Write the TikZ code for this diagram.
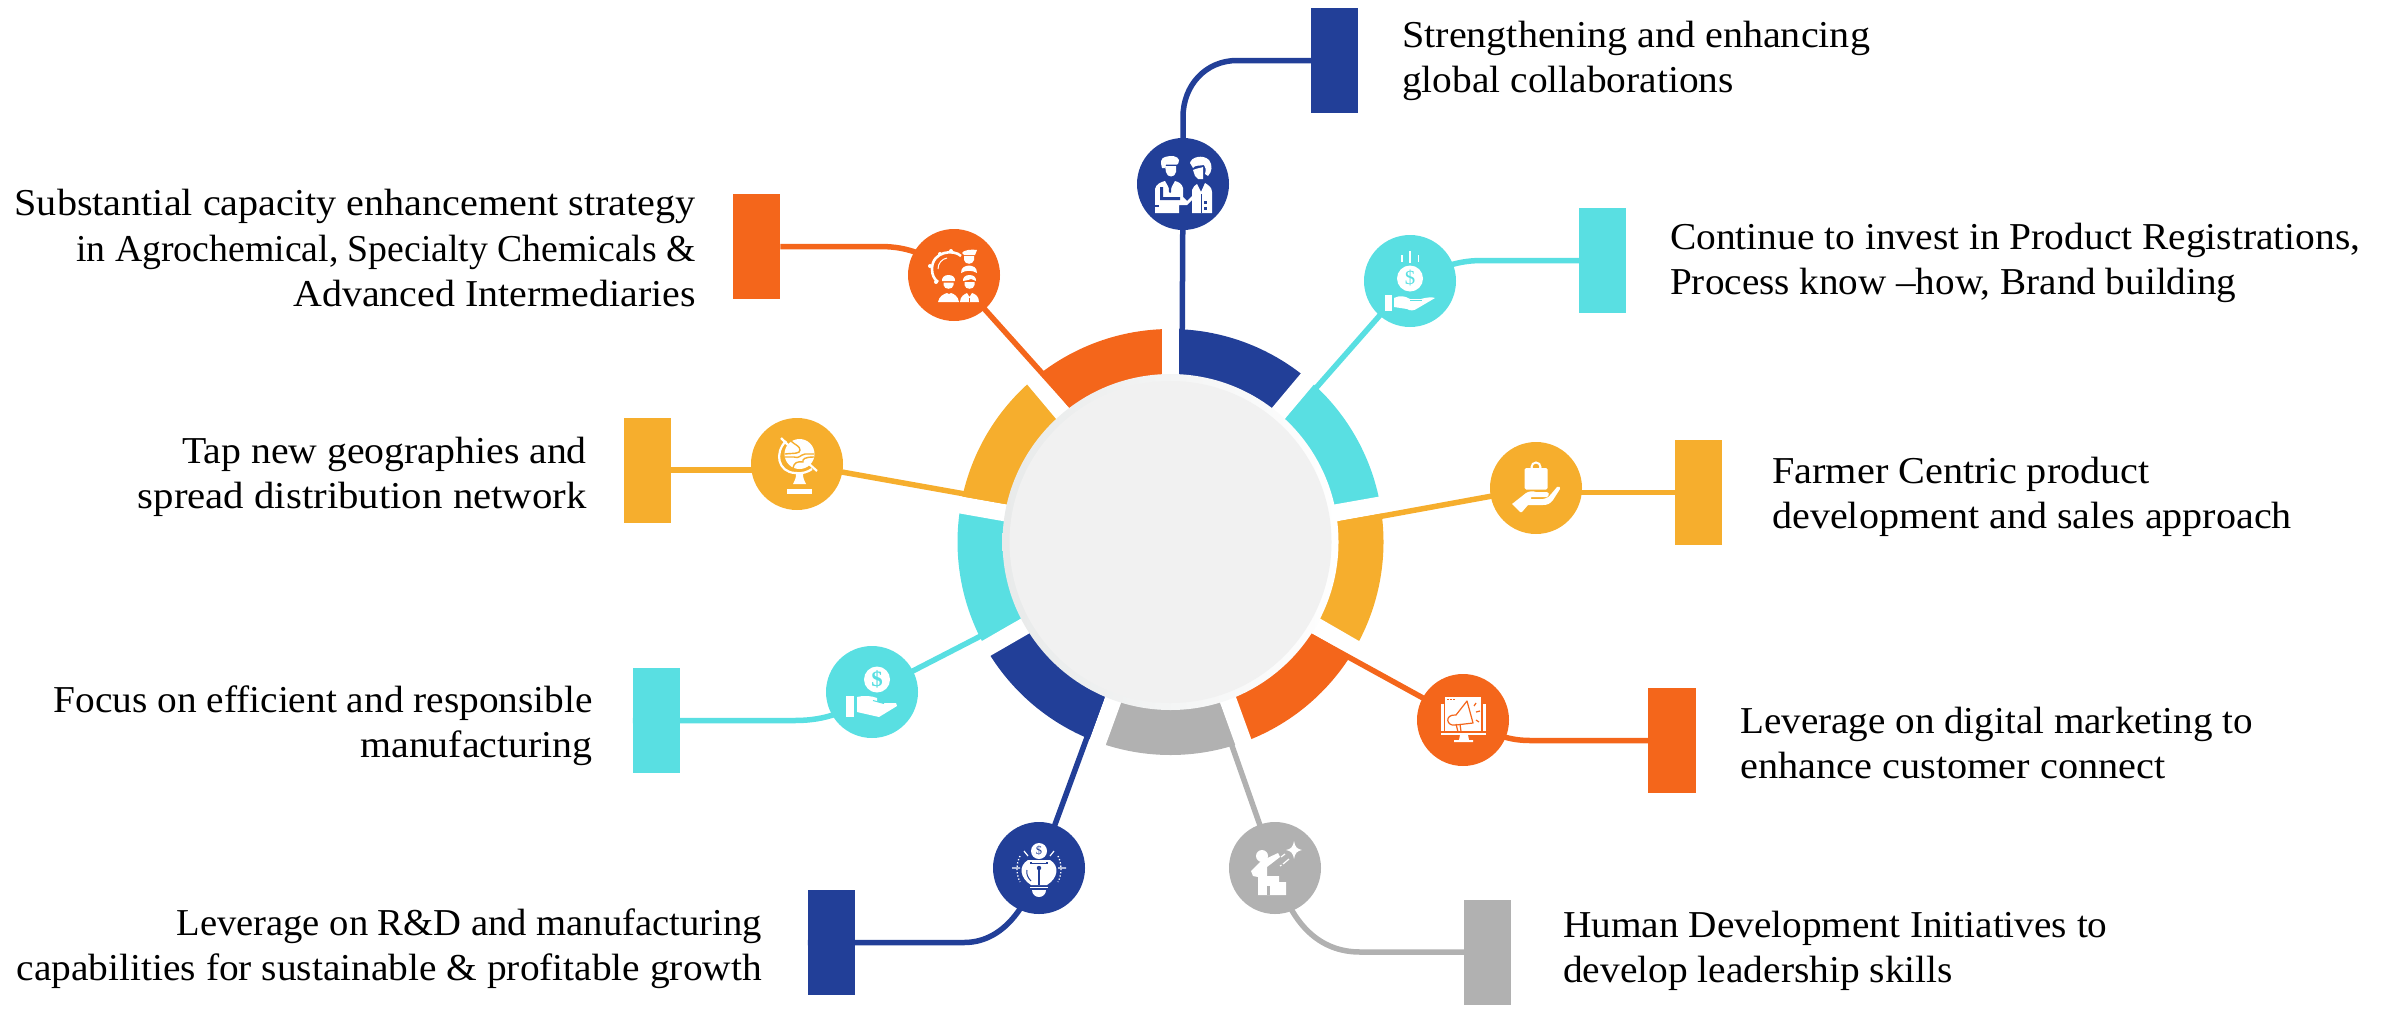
\documentclass[tikz,border=0pt]{standalone}
\usepackage{fontspec}
\setmainfont{Liberation Serif}[FakeStretch=1.042]
\usetikzlibrary{calc,shapes.geometric,backgrounds}
\definecolor{cblue}{HTML}{223F98}
\definecolor{ccyan}{HTML}{59DFE2}
\definecolor{cyell}{HTML}{F6AE2D}
\definecolor{corng}{HTML}{F4661B}
\definecolor{cgray}{HTML}{B1B1B1}
\definecolor{cdisk}{HTML}{F1F1F1}
\definecolor{crim}{HTML}{E8EAEA}
\newcommand{\hs}[2]{\scalebox{#1}[1]{#2}}
\pgfdeclarelayer{under}
\pgfsetlayers{under,main}
\tikzset{
  badge/.style={circle,fill=#1,minimum size=92pt,inner sep=0pt,outer sep=0pt},
  tab/.style={rectangle,fill=#1,minimum width=47.5pt,minimum height=105pt,inner sep=0pt,outer sep=0pt},
  link/.style={draw=#1,line width=5.5pt},
  lefttext/.style={anchor=west,align=left,inner sep=0pt,font=\fontsize{38}{45.2}\selectfont,text=black},
  righttext/.style={anchor=east,align=right,inner sep=0pt,font=\fontsize{38}{45.2}\selectfont,text=black},
}
\begin{document}
\begin{tikzpicture}[yscale=-1,x=1pt,y=1pt]
\useasboundingbox (0,0) rectangle (2389,1009);
% hub
\node[circle,left color=crim,right color=white,minimum size=336pt,inner sep=0pt,outer sep=0pt] (hub) at (1170.5,542) {};
\node[circle,fill=cdisk,minimum size=322pt,inner sep=0pt,outer sep=0pt] (disk) at (1170.5,542) {};
% badges
\node[badge=cblue] (b1) at (1183,184) {};
\node[badge=ccyan] (b2) at (1410,281) {};
\node[badge=cyell] (b3) at (1536,488) {};
\node[badge=corng] (b4) at (1463,720) {};
\node[badge=cgray] (b5) at (1275,868) {};
\node[badge=cblue] (b6) at (1039,868) {};
\node[badge=ccyan] (b7) at (872,692) {};
\node[badge=cyell] (b8) at (797,464) {};
\node[badge=corng] (b9) at (954,275) {};
% tabs
\node[tab=cblue] (t1) at (1334.5,60.5) {};
\node[tab=ccyan] (t2) at (1602.5,260.5) {};
\node[tab=cyell] (t3) at (1698.5,492.5) {};
\node[tab=corng] (t4) at (1672,740.5) {};
\node[tab=cgray] (t5) at (1487.5,952) {};
\node[tab=cblue] (t6) at (831.5,942.5) {};
\node[tab=ccyan] (t7) at (656.5,720.5) {};
\node[tab=cyell] (t8) at (647.5,470) {};
\node[tab=corng] (t9) at (756.5,246.5) {};
% ring ends of connectors
\foreach \n/\a in {1/-90,2/-50,3/-10,4/30,5/70,6/110,7/150,8/190,9/230}{
  \coordinate (s\n) at ($(hub.center)+(\a:170pt)+(\a+90:11.5pt)$);
}
\begin{pgfonlayer}{under}
\foreach \a/\c in {-90/cblue,-50/ccyan,-10/cyell,30/corng,70/cgray,110/cblue,150/ccyan,190/cyell,230/corng}{
  \fill[\c] (hub.center) -- ($(hub.center)+(\a:213pt)$) arc[start angle=\a,delta angle=40,radius=213pt] -- cycle;
}
\foreach \a in {-90,-50,-10,30,70,110,150,190,230}{
  \draw[white,line width=17pt] (hub.center) -- ($(hub.center)+(\a:232pt)$);
}
\draw[link=cblue] (s1) -- (b1.center);
\draw[link=ccyan] (s2) -- (b2.center);
\draw[link=cyell] (s3) -- (b3.center);
\draw[link=corng] (s4) -- (b4.center);
\draw[link=cgray] (s5) -- (b5.center);
\draw[link=cblue] (s6) -- (b6.center);
\draw[link=ccyan] (s7) -- (b7.center);
\draw[link=cyell] (s8) -- (b8.center);
\draw[link=corng] (s9) -- (b9.center);
\draw[link=cblue] (b1.center) -- (1183,117) .. controls (1183,85.5) and (1205.5,60.5) .. (1237,60.5) -- (t1.west);
\draw[link=ccyan] (b2.center) .. controls (1440,268) and (1455,261) .. (1480,260.5) -- (t2.west);
\draw[link=cyell] (b3.center) -- (1536,492.5) -- (t3.west);
\draw[link=corng] (b4.center) .. controls (1490,732) and (1505,740.5) .. (1530,740.5) -- (t4.west);
\draw[link=cgray] (b5.center) .. controls (1290,925) and (1320,952) .. (1360,952) -- (t5.west);
\draw[link=cblue] (b6.center) .. controls (1025,912) and (1000,942.5) .. (964,942.5) -- (t6.west);
\draw[link=ccyan] (b7.center) .. controls (850,712) and (825,720.5) .. (795,720.5) -- (t7.west);
\draw[link=cyell] (b8.center) -- (797,470) -- (t8.east);
\draw[link=corng] (b9.center) .. controls (930,256) and (910,246.5) .. (880,246.5) -- (t9.east);
\end{pgfonlayer}
% texts
\node[lefttext] (x1) at (1402,61) {\hs{1.013}{Strengthening and enhancing}\\\hs{.995}{global collaborations}};
\node[lefttext] (x2) at (1670,263) {\hs{.996}{Continue to invest in Product Registrations,}\\\hs{.989}{Process know –how, Brand building}};
\node[lefttext] (x3) at (1772,497) {\hs{1.016}{Farmer Centric product}\\\hs{1.012}{development and sales approach}};
\node[lefttext] (x4) at (1740,743) {\hs{.988}{Leverage on digital marketing to}\\\hs{1.018}{enhance customer connect}};
\node[lefttext] (x5) at (1563,951) {\hs{.992}{Human Development Initiatives to}\\\hs{.996}{develop leadership skills}};
\node[righttext] (x6) at (762,949) {\hs{.975}{Leverage on R\&D and manufacturing}\\\hs{.995}{capabilities for sustainable \& profitable growth}};
\node[righttext] (x7) at (593,726) {\hs{.994}{Focus on efficient and responsible}\\\hs{1.007}{manufacturing}};
\node[righttext] (x8) at (587,477) {\hs{1.004}{Tap new geographies and}\\\hs{1.031}{spread distribution network}};
\node[righttext] (x9) at (696,248) {\hs{1.014}{Substantial capacity enhancement strategy}\\\hs{.953}{in Agrochemical, Specialty Chemicals \&}\\\hs{1.008}{Advanced Intermediaries}};
% icon 1: two people
\begin{scope}[shift={(b1.center)}]
  \fill[white] (-18,-18) -- (-7,-18) -- (-7,-12) .. controls (-8,-6) and (-16,-6) .. (-17,-12) -- cycle;
  \fill[white] (-21,-16) .. controls (-23,-22) and (-22,-26) .. (-18,-27) .. controls (-12,-29) and (-5,-28) .. (-4,-24) .. controls (-4,-21) and (-5,-20) .. (-6,-19.5) -- (-17,-19.5) -- (-18,-16) -- cycle;
  \fill[white] (-28,29) -- (-28,5) .. controls (-27,0) and (-22,-2) .. (-18,-3) -- (-13,6) -- (-8,-3) .. controls (-4,-2) and (-1,0) .. (0,4) -- (0,13) -- (4,17) -- (9,12) -- (11,14) -- (4,21) -- (-4,21) -- (-4,29) -- cycle;
  \fill[cblue] (-23,3) -- (-23,16) -- (-3,16) -- (-3,13) -- (-20,13) -- (-20,3) -- cycle;
  \fill[cblue] (-14.5,0) -- (-11.5,0) -- (-12,8) -- (-13,9) -- (-14,8) -- cycle;
  \fill[cblue] (-28,21) rectangle (-24,23);
  \fill[white] (7,-21) .. controls (8,-27) and (20,-30) .. (26,-24) .. controls (30,-19) and (29,-12) .. (25,-8) -- (22,-10) .. controls (23,-14) and (23,-17) .. (21,-19) .. controls (16,-18) and (12,-19) .. (10,-16) -- cycle;
  \fill[white] (10,-14) .. controls (14,-16) and (18,-16) .. (20,-17) -- (20,-5) -- (15,-5) -- (12,-8) -- cycle;
  \fill[white] (9,29) -- (9,6) .. controls (10,3) and (12,1) .. (14,0) -- (18,8) -- (22,-1) .. controls (25,1) and (29,3) .. (29,8) -- (29,29) -- cycle;
  \fill[cblue] (17.5,10) rectangle (19,29);
  \fill[cblue] (21,17) rectangle (24,19.5);
  \fill[cblue] (21,23) rectangle (24,25.5);
\end{scope}
% icon 2: coin over hand
\begin{scope}[shift={(b2.center)}]
  \fill[white] (0,-2.5) circle[radius=13pt];
  \node[text=ccyan,font=\fontsize{20}{20}\selectfont] (d2) at (0,-2.5) {\$};
  \fill[white] (-0.8,-30) rectangle (0.8,-18);
  \fill[white] (-9,-26) rectangle (-7.5,-19);
  \fill[white] (7.5,-26) rectangle (9,-19);
  \fill[white] (-25,14) rectangle (-18,30);
  \fill[white] (-16,17) .. controls (-10,14) and (-5,15) .. (0,18) -- (11,18) .. controls (18,16) and (22,16) .. (25,17) -- (8,27) .. controls (4,30) and (0,30) .. (-3,28) -- (-16,26) -- cycle;
  \draw[ccyan,line width=1pt] (0,19.5) -- (12,19.5);
\end{scope}
% icon 3: bag over hand
\begin{scope}[shift={(b3.center)}]
  \fill[white,rounded corners=1.5pt] (-11.5,-20) rectangle (11.5,1.5);
  \draw[white,line width=2pt] (0,-21) circle[radius=4.5pt];
  \fill[cyell] (-2,-21) rectangle (2,-20);
  \fill[white] (-24,16) -- (-10,5) .. controls (-7,3) and (-3,3) .. (0,4) -- (10,4) .. controls (13,4) and (14,7) .. (11,9) -- (-5,9) -- (-5,11) -- (7,11) .. controls (12,10) and (14,8) .. (16,5) -- (21,-1) .. controls (23,-2) and (25,-1) .. (24,1) -- (17,12) .. controls (14,16) and (11,17) .. (7,17) -- (-8,17) -- (-14,24) -- (-16,24) -- cycle;
\end{scope}
% icon 4: monitor with megaphone
\begin{scope}[shift={(b4.center)}]
  \fill[white] (-18,-23) rectangle (18,11);
  \fill[white] (-22,-16) rectangle (-19.5,11);
  \fill[white] (19.5,-16) rectangle (23,11);
  \fill[white] (-22,12.5) rectangle (23,15);
  \fill[white] (-3,15) -- (5,15) -- (6,20) -- (10,20) -- (10,22) -- (-9,22) -- (-9,20) -- (-4,20) -- cycle;
  \fill[corng] (-16,-21.5) rectangle (-14.5,-20);
  \fill[corng] (-13,-21.5) rectangle (-11.5,-20);
  \fill[corng] (-10,-21.5) rectangle (-8.5,-20);
  \draw[corng,line width=1.2pt,line join=round] (-7,-5) -- (4,-19) -- (10,3) -- (-7,5) .. controls (-17,7) and (-19,-6) .. (-7,-5) -- cycle;
  \draw[corng,line width=1.2pt] (-7,4) -- (-5,12) -- (-2,11.5) -- (-3,4);
  \draw[corng,line width=1.2pt] (13,-17) -- (11,-14) (17,-9) -- (13,-8) (16,2) -- (13,0);
\end{scope}
% icon 5: person reaching for star
\begin{scope}[shift={(b5.center)}]
  \fill[white] (-13,-12) circle[radius=6pt];
  \fill[white] (-24,3) -- (-14,-7) -- (3,-15) -- (5,-11) -- (-8,-1) -- (-8,8) -- (4,8) -- (4,14) -- (11,14) -- (11,27) -- (-17,27) -- (-17,12) -- (-17,9) -- (-22,8) -- cycle;
  \fill[cgray] (-8,18) rectangle (-5,27);
  \fill[white] (19,-27) .. controls (20,-21) and (22,-19) .. (27,-18) .. controls (22,-17) and (20,-15) .. (19,-9) .. controls (18,-15) and (16,-17) .. (11,-18) .. controls (16,-19) and (18,-21) .. (19,-27) -- cycle;
  \draw[white,line width=1.2pt] (6,-11) -- (10,-14) (8,-4) -- (14,-9) (5,-2) -- (6.5,-3);
\end{scope}
% icon 6: bulb with coin
\begin{scope}[shift={(b6.center)}]
  \fill[white] (0,-17) circle[radius=8pt];
  \node[text=cblue,font=\fontsize{12}{12}\selectfont] (d6) at (0,-17) {\$};
  \fill[white] (-11,-8) .. controls (-21,-2) and (-19,10) .. (-8,17) -- (8,17) .. controls (19,10) and (21,-2) .. (11,-8) -- cycle;
  \fill[cblue] (-9,-6.5) rectangle (9,-4.5);
  \fill[white] (-7,-6.5) rectangle (7,-5);
  \draw[cblue,line width=1.2pt] (0,1) -- (0,17);
  \fill[cblue] (0,0) circle[radius=2.2pt];
  \draw[cblue,line width=1pt] (-12,2) .. controls (-13,6) and (-11,10) .. (-8,13);
  \draw[white,line width=1.2pt] (-9,19.5) -- (9,19.5);
  \fill[white] (-7,22) -- (7,22) arc[start angle=0,end angle=180,radius=7pt] -- cycle;
  \draw[white,line width=1.3pt,dotted] (-19,-12) .. controls (-23,-4) and (-23,6) .. (-19,14);
  \draw[white,line width=1.3pt,dotted] (19,-12) .. controls (23,-4) and (23,6) .. (19,14);
  \draw[white,line width=1.2pt] (-27,0) -- (-19,0) (19,0) -- (27,0) (-15,-17) -- (-11,-12) (15,-17) -- (11,-12);
\end{scope}
% icon 7: coin over hand
\begin{scope}[shift={(b7.center)}]
  \fill[white] (5,-12.5) circle[radius=13pt];
  \node[text=ccyan,font=\fontsize{22}{22}\selectfont\bfseries] (d7) at (5,-12.5) {\$};
  \fill[white] (-26,4) rectangle (-18,25);
  \fill[white] (-15,5) .. controls (-8,3) and (0,4) .. (5,6) -- (5,10) -- (1,9) -- (10,11) -- (24,11) -- (25,14) -- (7,25) -- (-15,20) -- cycle;
  \draw[ccyan,line width=1pt] (1,8.5) -- (12,11.5);
\end{scope}
% icon 8: globe
\begin{scope}[shift={(b8.center)}]
  \fill[white] (2.5,-10) circle[radius=15pt];
  \draw[cyell,line width=1.4pt] (-6,-23) .. controls (-2,-19) and (3,-18) .. (3,-14) .. controls (3,-10) and (-3,-11) .. (-12,-10);
  \draw[cyell,line width=1.4pt] (-12.5,-7) -- (-3,-7) .. controls (2,-5) and (3,-9) .. (8,-10) -- (17,-10);
  \draw[cyell,line width=1.4pt] (17,-7) .. controls (8,-7) and (5,-5) .. (6,-2) .. controls (0,-3) and (-3,-1) .. (-4,4);
  \draw[white,line width=2.2pt] (-11,-23) .. controls (-23,-11) and (-19,8) .. (-2,9) .. controls (5,10) and (11,8) .. (15,5);
  \draw[white,line width=2.2pt] (-16,-26) -- (-9,-19) (11,-1) -- (20,7);
  \fill[white] (-1,10) -- (6,10) .. controls (6,14) and (7,16) .. (9,20) -- (-4,20) .. controls (-2,16) and (-1,14) .. (-1,10) -- cycle;
  \fill[white] (-10,25) rectangle (15,30);
\end{scope}
% icon 9: gear and people
\begin{scope}[shift={(b9.center)}]
  \draw[white,line width=2.6pt] (7,-19) .. controls (0,-26) and (-22,-24) .. (-22,-6) .. controls (-22,0) and (-20,4) .. (-16,7);
  \draw[white,line width=1pt] (-16,-6) .. controls (-16,-12) and (-12,-16) .. (-7,-17);
  \foreach \xa/\ya in {-3/-24,-14/-21,-24/-9,-18/7}{\fill[white] (\xa,\ya) circle[radius=2pt];}
  % top person
  \fill[white] (8,-22) .. controls (9,-25) and (18,-26) .. (23,-25) -- (21,-20) -- (10,-20) -- cycle;
  \fill[white] (10,-19) -- (20,-19) -- (20,-15) .. controls (19,-10) and (11,-10) .. (10,-15) -- cycle;
  \fill[white] (7,-2) .. controls (7,-8) and (11,-9) .. (15,-9.5) .. controls (19,-9) and (23,-8) .. (23,-2) .. controls (18,-5) and (12,-5) .. (7,-2) -- cycle;
  % lower left person
  \fill[white] (-12,6) .. controls (-13,-2) and (2,-2) .. (1,6) -- cycle;
  \fill[white] (-10.5,7.5) -- (-0.5,7.5) -- (-0.5,10) .. controls (-1,15) and (-10,15) .. (-10.5,10) -- cycle;
  \fill[white] (-16,27) .. controls (-15,21) and (-10,19) .. (-7,18) .. controls (-6,19.5) and (-4,19.5) .. (-3,18) .. controls (0,19) and (4,21) .. (5,27) -- cycle;
  % lower right person
  \fill[white] (9,6) .. controls (8,-2) and (23,-2) .. (22,6) -- (17,4) -- (14,5) -- cycle;
  \fill[white] (10.5,7) -- (20.5,7) -- (20.5,10) .. controls (20,15) and (11,15) .. (10.5,10) -- cycle;
  \fill[white] (6,27) .. controls (6,21) and (11,19) .. (13,18) -- (15.5,22) -- (18,18) .. controls (21,19) and (25,21) .. (25,27) -- cycle;
  \fill[corng] (15,23) rectangle (16,27);
\end{scope}
\end{tikzpicture}
\end{document}
